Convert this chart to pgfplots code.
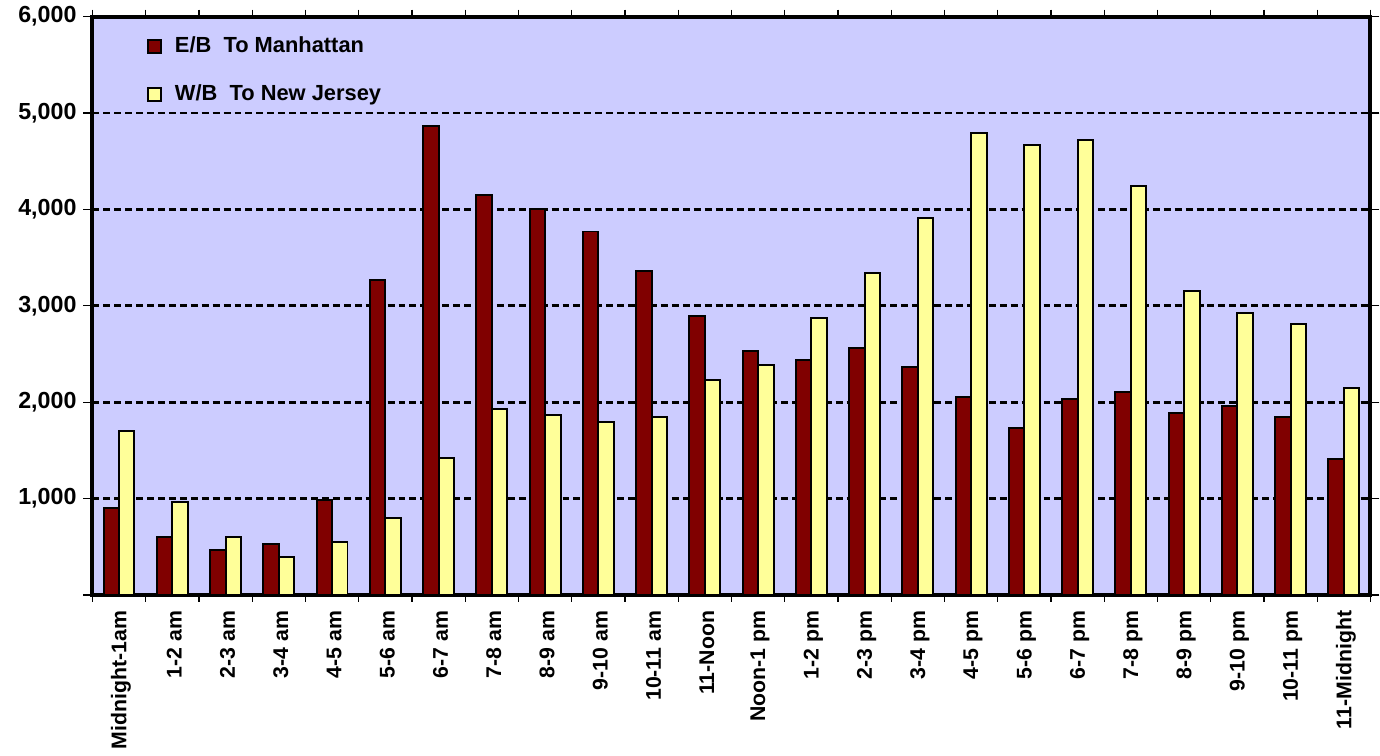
\documentclass[border=0pt]{standalone}
\usepackage{fontspec}
\setmainfont{Liberation Sans}
\usepackage{pgfplots}
\pgfplotsset{compat=1.18}
\definecolor{bgblue}{HTML}{CCCCFF}
\definecolor{ebred}{HTML}{800000}
\definecolor{wbyel}{HTML}{FFFF99}
\begin{document}
\begin{tikzpicture}
\begin{axis}[
  name=ax,
  scale only axis,
  width=643pt, height=291pt,
  ybar=0pt, bar width=0.29,
  xmin=-0.5, xmax=23.5,
  ymin=0, ymax=6000,
  axis background/.style={fill=bgblue},
  axis line style={line width=2pt},
  tick align=outside,
  major tick length=4.5pt,
  minor tick length=3.5pt,
  xtick={0,...,23},
  xticklabels={Midnight-1am,1-2 am,2-3 am,3-4 am,4-5 am,5-6 am,6-7 am,7-8 am,8-9 am,9-10 am,10-11 am,11-Noon,Noon-1 pm,1-2 pm,2-3 pm,3-4 pm,4-5 pm,5-6 pm,6-7 pm,7-8 pm,8-9 pm,9-10 pm,10-11 pm,11-Midnight},
  major x tick style={draw=none},
  minor xtick={-0.5,0.5,...,23.5},
  minor x tick style={black,line width=0.6pt},
  x tick label style={rotate=90,anchor=east,yshift=-1pt,font=\bfseries\fontsize{10.7}{12}\selectfont},
  ytick={0,1000,...,6000},
  yticklabels={{},{1,000},{2,000},{3,000},{4,000},{5,000},{6,000}},
  y tick label style={font=\bfseries\fontsize{11.7}{13}\selectfont},
  ytick style={black,line width=0.6pt},
  ymajorgrids,
  grid style={black,line width=1.4pt,dash pattern=on 3.5pt off 2pt},
  legend style={at={(0.0425,0.972)},anchor=north west,draw=none,fill=none,
    font=\bfseries\fontsize{11}{13}\selectfont,row sep=10.5pt,inner sep=0pt},
  legend cell align=left,
]
\addplot[fill=ebred,draw=black,line width=1pt,
  legend image code/.code={\draw[fill=ebred,draw=black,line width=1pt] (0pt,-3.2pt) rectangle (6.4pt,3.2pt);\path (11pt,0pt);}]
  coordinates {(0,900) (1,600) (2,470) (3,530) (4,980) (5,3270) (6,4860) (7,4150) (8,4000) (9,3770) (10,3360) (11,2890) (12,2530) (13,2440) (14,2560) (15,2360) (16,2050) (17,1730) (18,2030) (19,2100) (20,1890) (21,1960) (22,1845) (23,1410)};
\addlegendentry{E/B\ \ To Manhattan}
\addplot[fill=wbyel,draw=black,line width=1pt,
  legend image code/.code={\draw[fill=wbyel,draw=black,line width=1pt] (0pt,-3.2pt) rectangle (6.4pt,3.2pt);\path (11pt,0pt);}]
  coordinates {(0,1700) (1,965) (2,600) (3,390) (4,550) (5,800) (6,1420) (7,1930) (8,1870) (9,1790) (10,1845) (11,2230) (12,2390) (13,2870) (14,3340) (15,3910) (16,4790) (17,4670) (18,4715) (19,4240) (20,3150) (21,2920) (22,2810) (23,2150)};
\addlegendentry{W/B\ \ To New Jersey}
\end{axis}
\path ([xshift=-46.5pt,yshift=-78.5pt]ax.south west) ([xshift=0.5pt,yshift=7.5pt]ax.north east);
\end{tikzpicture}
\end{document}
